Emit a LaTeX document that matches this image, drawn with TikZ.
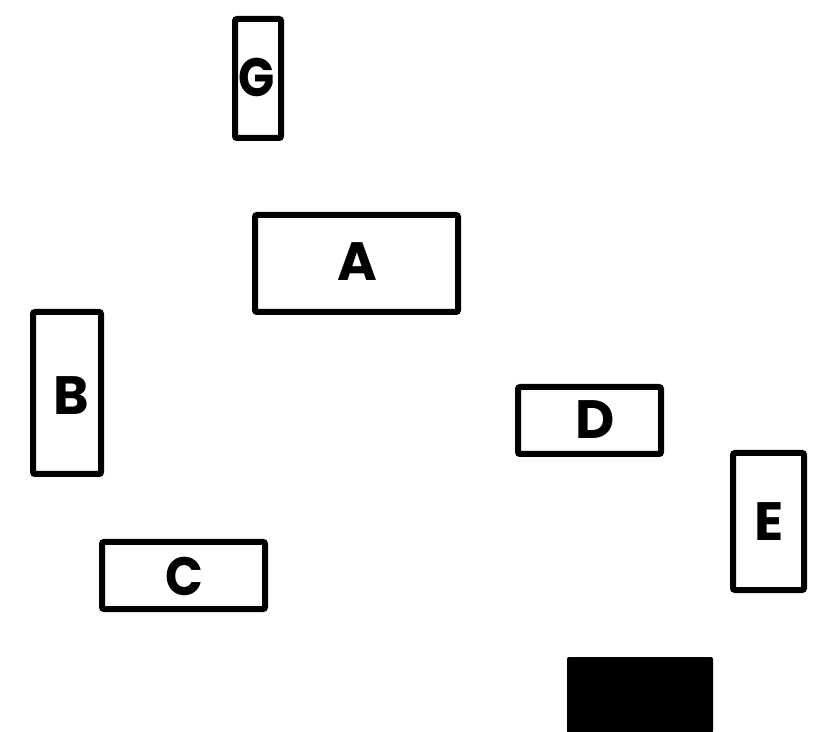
\documentclass[tikz,border=0pt]{standalone}
\usepackage{fontspec}
\usepackage{graphicx}
\setmainfont{Poppins}[BoldFont={* Bold}]
\begin{document}
\begin{tikzpicture}[x=1pt,y=1pt,
  box/.style={draw=black, line width=6pt, rounded corners=2pt, inner sep=0pt, fill=white},
  letter/.style={font=\fontsize{54}{54}\selectfont\bfseries, inner sep=0pt, text=black},
  solid block/.style={fill=black, rounded corners=2pt, inner sep=0pt}]
\useasboundingbox (0,0) rectangle (816,731);
\fill[white] (0,0) rectangle (816,731);
% boxes
\node[box, minimum width=46pt, minimum height=119pt] (G) at (258,652.5) {};
\node[box, minimum width=203pt, minimum height=97pt] (A) at (356.5,467.5) {};
\node[box, minimum width=68pt, minimum height=162pt] (B) at (67,338) {};
\node[box, minimum width=163pt, minimum height=67pt] (C) at (183.5,155.5) {};
\node[box, minimum width=143pt, minimum height=67pt] (D) at (589.5,310.5) {};
\node[box, minimum width=71pt, minimum height=137pt] (E) at (768.5,209.5) {};
\node[solid block, minimum width=146pt, minimum height=76pt] (K) at (640,36) {};
% labels
\node[letter] (tG) at (256.5,654) {\scalebox{0.88}[1]{G}};
\node[letter] (tA) at (357,469.5) {A};
\node[letter] (tB) at (71.5,335.5) {B};
\node[letter] (tC) at (184.5,155) {\scalebox{0.92}[1]{C}};
\node[letter] (tD) at (595,311) {D};
\node[letter] (tE) at (769.5,209) {E};
\end{tikzpicture}
\end{document}
